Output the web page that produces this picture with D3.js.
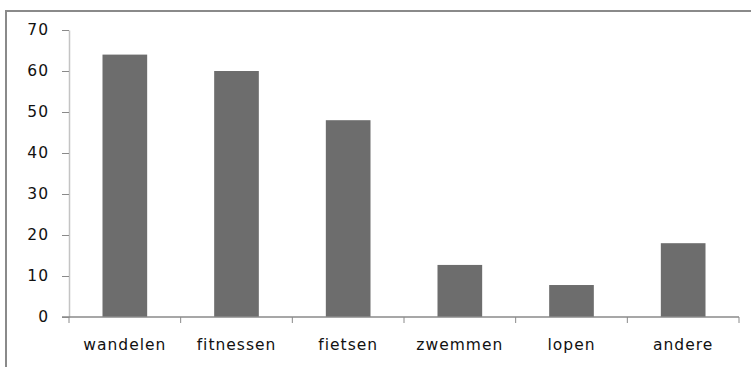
<!DOCTYPE html>
<html>
<head>
<meta charset="utf-8">
<script src="https://cdn.jsdelivr.net/npm/d3@7"></script>
<style>
  html, body { margin: 0; padding: 0; background: #fff; }
  svg { display: block; }
  text { font-family: "DejaVu Sans", Verdana, sans-serif; fill: #111; }
</style>
</head>
<body>
<svg id="chart" width="751" height="367"></svg>
<script>
// Sport activities and their counts
const categories = ["wandelen", "fitnessen", "fietsen", "zwemmen", "lopen", "andere"];
const values = [64, 60, 48, 12.7, 7.8, 18];
const yTicks = [0, 10, 20, 30, 40, 50, 60, 70];

const svg = d3.select("#chart");

// Plot area
const plotLeft = 69, plotRight = 739, plotTop = 30, plotBottom = 317;

// Outer chart frame (runs off the right and bottom edges)
svg.append("rect")
  .attr("x", 6).attr("y", 11)
  .attr("width", 900).attr("height", 500)
  .attr("fill", "none")
  .attr("stroke", "#8a8a8a")
  .attr("stroke-width", 2);

const x = d3.scaleBand()
  .domain(categories)
  .range([plotLeft, plotRight])
  .paddingInner(0.6)
  .paddingOuter(0.3);

const xEdges = d3.scaleBand().domain(categories).range([plotLeft, plotRight]);

const y = d3.scaleLinear().domain([0, 70]).range([plotBottom, plotTop]);

// Bars
svg.append("g").selectAll("rect")
  .data(values)
  .join("rect")
  .attr("x", (d, i) => x(categories[i]))
  .attr("y", d => y(d))
  .attr("width", x.bandwidth())
  .attr("height", d => y(0) - y(d))
  .attr("fill", "#6d6d6d");

// Y axis
const yAxis = svg.append("g")
  .attr("transform", `translate(${plotLeft},0)`)
  .call(d3.axisLeft(y).tickValues(yTicks).tickSize(7).tickSizeOuter(0).tickPadding(13));
yAxis.select(".domain").attr("stroke", "#c4c4c4").attr("stroke-width", 1.5);
yAxis.selectAll(".tick line").attr("stroke", "#8a8a8a");
yAxis.selectAll(".tick text")
  .style("font-family", "'DejaVu Sans', Verdana, sans-serif")
  .style("letter-spacing", "1px")
  .attr("font-size", 15.5)
  .attr("fill", "#1a1a1a");

// X axis: line across plot with ticks at category boundaries
const xAxis = svg.append("g").attr("transform", `translate(0,${plotBottom})`);
xAxis.append("line")
  .attr("x1", plotLeft - 7).attr("x2", plotRight)
  .attr("stroke", "#8a8a8a").attr("stroke-width", 1.5);
const edges = categories.map(c => xEdges(c)).concat([plotRight]);
xAxis.selectAll("line.edge")
  .data(edges)
  .join("line")
  .attr("class", "edge")
  .attr("x1", d => d).attr("x2", d => d)
  .attr("y1", 0).attr("y2", 6)
  .attr("stroke", "#8a8a8a");
xAxis.selectAll("text")
  .data(categories)
  .join("text")
  .attr("x", d => xEdges(d) + xEdges.bandwidth() / 2)
  .attr("y", 33)
  .attr("text-anchor", "middle")
  .attr("font-size", 15.5)
  .attr("fill", "#1a1a1a")
  .style("letter-spacing", "1px")
  .text(d => d);
</script>
</body>
</html>
